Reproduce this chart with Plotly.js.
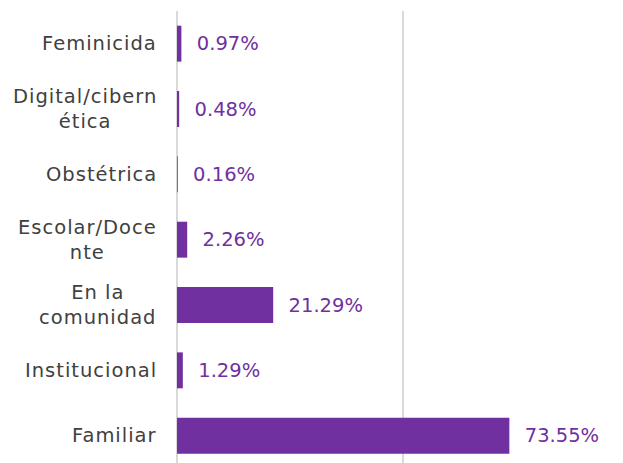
<!DOCTYPE html>
<html><head><meta charset="utf-8">
<script src="https://cdn.plot.ly/plotly-3.0.1.min.js"></script>
<style>html,body{margin:0;padding:0;background:#fff}
.annotation-text{letter-spacing:1px}</style>
</head><body>
<div id="chart" style="width:623px;height:463px"></div>
<script>
// bottom-to-top order
const categories = ["Familiar", "Institucional", "En la comunidad", "Escolar/Docente", "Obstétrica", "Digital/cibernética", "Feminicida"];
const categoryLabels = ["Familiar", "Institucional", "En la<br>comunidad", "Escolar/Doce<br>nte", "Obstétrica", "Digital/cibern<br>ética", "Feminicida"];
const values = [73.55, 1.29, 21.29, 2.26, 0.16, 0.48, 0.97];

const purple = "#7030A0";
const fontFam = "DejaVu Sans, Noto Sans, sans-serif";

const trace = {
  type: "bar",
  orientation: "h",
  y: categories,
  x: values,
  marker: {color: purple},
  text: values.map(v => "\u00a0\u00a0" + v.toFixed(2) + "%"),
  textposition: "outside",
  cliponaxis: false,
  textfont: {color: purple, size: 19.5, family: fontFam},
  hoverinfo: "none"
};

const annotations = categories.map((c, i) => ({
  xref: "paper", yref: "y", x: 0, y: c,
  xanchor: "right", yanchor: "middle", align: "center",
  xshift: -18,
  text: categoryLabels[i],
  showarrow: false,
  font: {size: 19.5, color: "#404040", family: fontFam}
}));

const layout = {
  width: 623, height: 463,
  margin: {l: 177, r: 0, t: 11, b: 0},
  paper_bgcolor: "#fff", plot_bgcolor: "#fff",
  bargap: 0.45,
  showlegend: false,
  xaxis: {range: [0, 98.7], dtick: 50, tick0: 0, showticklabels: false, ticks: "",
          showgrid: true, gridcolor: "#d9d9d9", gridwidth: 1.5,
          zeroline: true, zerolinecolor: "#d9d9d9", zerolinewidth: 1.5, showline: false, fixedrange: true},
  yaxis: {type: "category", categoryorder: "array", categoryarray: categories,
          range: [-0.418, 6.5], showticklabels: false, ticks: "", showgrid: false,
          zeroline: false, showline: false, fixedrange: true},
  annotations: annotations
};

Plotly.newPlot("chart", [trace], layout, {displayModeBar: false, staticPlot: true});
</script>
</body></html>
